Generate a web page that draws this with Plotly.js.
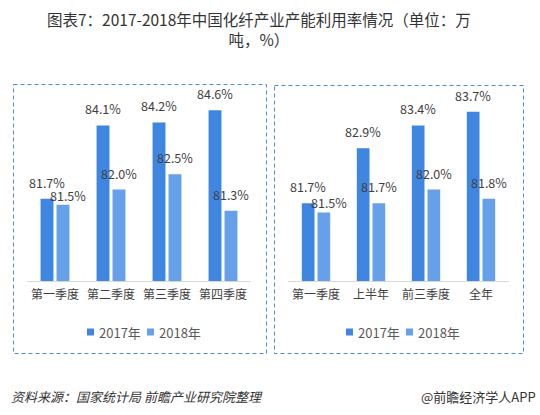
<!DOCTYPE html>
<html>
<head>
<meta charset="utf-8">
<script src="https://cdn.plot.ly/plotly-3.0.1.min.js"></script>
<style>html,body{margin:0;padding:0;background:#fff;}#chart{width:540px;height:415px;}</style>
</head>
<body>
<div id="chart"></div>
<script>
// ---- data ----
const leftCategories = ["第一季度", "第二季度", "第三季度", "第四季度"];
const left2017 = [81.7, 84.1, 84.2, 84.6];
const left2018 = [81.5, 82.0, 82.5, 81.3];
const rightCategories = ["第一季度", "上半年", "前三季度", "全年"];
const right2017 = [81.7, 82.9, 83.4, 83.7];
const right2018 = [81.5, 81.7, 82.0, 81.8];
const seriesNames = ["2017年", "2018年"];
const titleText = "图表7：2017-2018年中国化纤产业产能利用率情况（单位：万<br>吨，%）";
const sourceText = "资料来源：国家统计局 前瞻产业研究院整理";
const brandText = "@前瞻经济学人APP";

// ---- style ----
const W = 540, H = 415;
const FONT = "'Noto Sans CJK SC', 'Noto Sans', sans-serif";
const COLORS = ["#3f86e0", "#66a0e8"];
const TXT = "#404040";
const px = v => v / W;
const py = v => 1 - v / H;

const traces = [
  {type: "bar", name: seriesNames[0], x: leftCategories, y: left2017, marker: {color: COLORS[0]}, xaxis: "x", yaxis: "y", hoverinfo: "none"},
  {type: "bar", name: seriesNames[1], x: leftCategories, y: left2018, marker: {color: COLORS[1]}, xaxis: "x", yaxis: "y", hoverinfo: "none"},
  {type: "bar", name: seriesNames[0], x: rightCategories, y: right2017, marker: {color: COLORS[0]}, xaxis: "x2", yaxis: "y2", hoverinfo: "none"},
  {type: "bar", name: seriesNames[1], x: rightCategories, y: right2018, marker: {color: COLORS[1]}, xaxis: "x2", yaxis: "y2", hoverinfo: "none"}
];

const annotations = [];
const shapes = [];
// labels of 2018 that sit close to the 2017 label are nudged right/down (as the reference does)
function addLabels(cats, vals, other, xref, yref, shift, isSecond) {
  cats.forEach((c, i) => {
    let xs = shift, ys = 16.5;
    if (isSecond && Math.abs(other[i] - vals[i]) < 0.25) { xs = shift + 5; ys = 9.5; }
    annotations.push({
      x: c, y: vals[i], xref: xref, yref: yref, text: vals[i].toFixed(1) + "%",
      showarrow: false, xshift: xs, yshift: ys, yanchor: "middle", xanchor: "center",
      font: {family: FONT, size: 12.5, color: TXT}
    });
  });
}
addLabels(leftCategories, left2017, left2018, "x", "y", -8, false);
addLabels(leftCategories, left2018, left2017, "x", "y", 8, true);
addLabels(rightCategories, right2017, right2018, "x2", "y2", -8, false);
addLabels(rightCategories, right2018, right2017, "x2", "y2", 8, true);

// legends (one per panel): small squares + names
function addLegend(startX, yC) {
  seriesNames.forEach((n, i) => {
    const x0 = startX + i * 60;
    shapes.push({type: "rect", xref: "paper", yref: "paper", x0: px(x0), x1: px(x0 + 7),
      y0: py(yC + 3.5), y1: py(yC - 3.5), fillcolor: COLORS[i], line: {width: 0}});
    annotations.push({text: n, xref: "paper", yref: "paper", x: px(x0 + 10), y: py(yC), xanchor: "left", yanchor: "middle",
      showarrow: false, font: {family: FONT, size: 13, color: "#595959"}});
  });
}
addLegend(87, 332);
addLegend(346, 332);

annotations.push({
  text: titleText, xref: "paper", yref: "paper", x: px(259), y: py(29), xanchor: "center", yanchor: "middle",
  showarrow: false, align: "center", font: {family: FONT, size: 15.5, color: "#333333"}
});
annotations.push({
  text: "<i>" + sourceText + "</i>", xref: "paper", yref: "paper", x: px(9), y: py(396), xanchor: "left", yanchor: "middle",
  showarrow: false, font: {family: FONT, size: 13, color: "#333333"}
});
annotations.push({
  text: brandText, xref: "paper", yref: "paper", x: px(538), y: py(396), xanchor: "right", yanchor: "middle",
  showarrow: false, font: {family: FONT, size: 13, color: "#333333"}
});

shapes.push(
  {type: "rect", xref: "paper", yref: "paper", x0: px(13.5), x1: px(266.5), y0: py(84.5), y1: py(353.5),
    line: {color: "#4a89dc", width: 1, dash: "4px,3px"}},
  {type: "rect", xref: "paper", yref: "paper", x0: px(274.5), x1: px(523.5), y0: py(85.5), y1: py(353.5),
    line: {color: "#4a89dc", width: 1, dash: "4px,3px"}}
);

const axisX = {
  showline: true, linecolor: "#d9d9d9", linewidth: 1, ticks: "", showgrid: false, zeroline: false,
  tickfont: {family: FONT, size: 12, color: TXT}, ticklabelstandoff: 3, fixedrange: true
};
const axisY = {showline: false, showgrid: false, zeroline: false, showticklabels: false, ticks: "", fixedrange: true};

const layout = {
  width: W, height: H,
  margin: {l: 0, r: 0, t: 0, b: 0},
  paper_bgcolor: "#ffffff", plot_bgcolor: "rgba(0,0,0,0)",
  font: {family: FONT, color: TXT},
  barmode: "group", bargap: 0.43, bargroupgap: 0.19,
  xaxis: Object.assign({domain: [px(27), px(251)], anchor: "y"}, axisX),
  yaxis: Object.assign({domain: [py(281), py(98)], range: [79, 85], anchor: "x"}, axisY),
  xaxis2: Object.assign({domain: [px(288), px(509)], anchor: "y2"}, axisX),
  yaxis2: Object.assign({domain: [py(281), py(98)], range: [80, 84], anchor: "x2"}, axisY),
  shapes: shapes,
  annotations: annotations,
  showlegend: false
};

Plotly.newPlot("chart", traces, layout, {displayModeBar: false, staticPlot: true});
</script>
</body>
</html>
